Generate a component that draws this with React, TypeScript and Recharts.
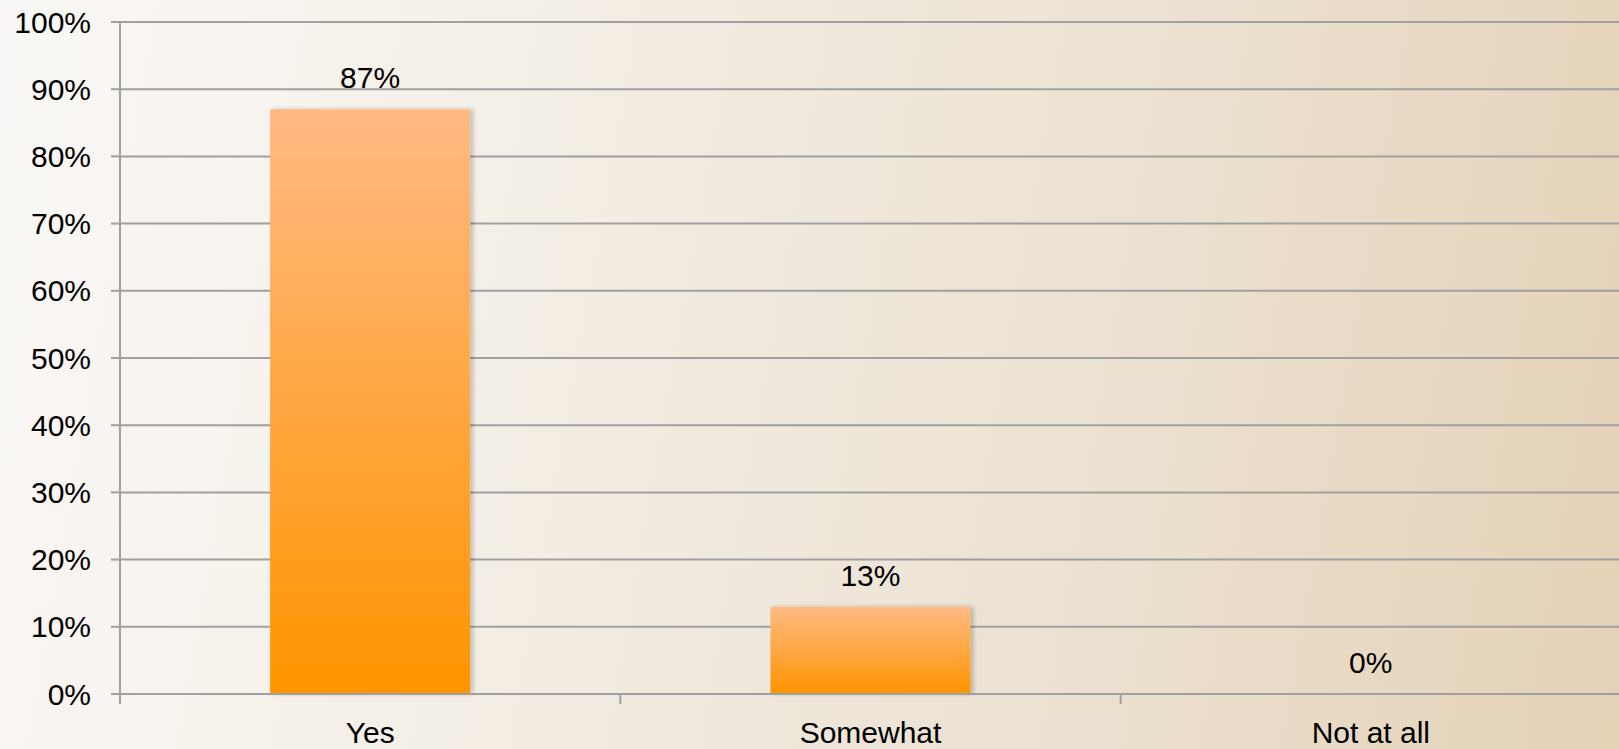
import { BarChart, Bar, XAxis, YAxis, CartesianGrid, LabelList } from 'recharts'

// share of respondents per answer (%)
const answers = ['Yes', 'Somewhat', 'Not at all']
const shares = [87, 13, 0]
const percentTicks = [0, 10, 20, 30, 40, 50, 60, 70, 80, 90, 100]

const data = answers.map((answer, i) => ({ answer, share: shares[i] }))

const LINE = '#a0a0a0'
const FONT = '"Liberation Sans", Arial, sans-serif'

// answer label under the axis, plus the short ticks at category boundaries
function AnswerTick(props: any) {
  const { x, y, payload, index } = props
  const half = payload.offset ?? 250
  const isLast = index === answers.length - 1
  return (
    <g>
      <line x1={x - half} x2={x - half} y1={y} y2={y + 10} stroke={LINE} strokeWidth={2} />
      {isLast && <line x1={x + half} x2={x + half} y1={y} y2={y + 10} stroke={LINE} strokeWidth={2} />}
      <text x={x} y={y + 49} textAnchor="middle" fontSize={30} fill="#000" fontFamily={FONT}>
        {payload.value}
      </text>
    </g>
  )
}

export default function App() {
  return (
    <div
      style={{
        position: 'absolute',
        left: 0,
        top: 0,
        width: 1619,
        height: 749,
        overflow: 'hidden',
        background: 'linear-gradient(100deg, #faf8f6 0%, #f4efe7 30%, #ece2d3 65%, #e4d2b7 100%)',
      }}
    >
      <BarChart
        width={1621}
        height={749}
        data={data}
        margin={{ top: 22, right: 0, bottom: 0, left: 0 }}
        barCategoryGap="30%"
      >
        <defs>
          <linearGradient id="barFill" x1="0" y1="0" x2="0" y2="1">
            <stop offset="0%" stopColor="#ffba84" />
            <stop offset="100%" stopColor="#ff9400" />
          </linearGradient>
          <filter id="barShadow" x="-10%" y="-10%" width="130%" height="120%">
            <feDropShadow dx={3} dy={0} stdDeviation={2} floodColor="#000" floodOpacity={0.22} />
          </filter>
        </defs>
        <CartesianGrid vertical={false} stroke={LINE} strokeWidth={2} />
        <XAxis
          dataKey="answer"
          height={55}
          tickSize={0}
          tickMargin={0}
          tickLine={false}
          axisLine={{ stroke: LINE, strokeWidth: 2 }}
          tick={<AnswerTick />}
          interval={0}
        />
        <YAxis
          width={120}
          domain={[0, 100]}
          ticks={percentTicks}
          interval={0}
          tickFormatter={(v) => `${v}%`}
          tickSize={9}
          tickMargin={20}
          axisLine={{ stroke: LINE, strokeWidth: 2 }}
          tickLine={{ stroke: LINE, strokeWidth: 2 }}
          tick={{ fontSize: 30, fill: '#000', fontFamily: FONT }}
        />
        {/* a hair-thin rect keeps the 0% bar (and its label) in the layout */}
        <Bar
          dataKey="share"
          fill="url(#barFill)"
          filter="url(#barShadow)"
          minPointSize={(v: any) => (v === 0 ? 0.01 : 0)}
          isAnimationActive={false}
        >
          <LabelList
            dataKey="share"
            position="top"
            offset={21}
            formatter={(v: any) => `${v}%`}
            fill="#000"
            fontSize={30}
            fontFamily={FONT}
          />
        </Bar>
      </BarChart>
    </div>
  )
}
